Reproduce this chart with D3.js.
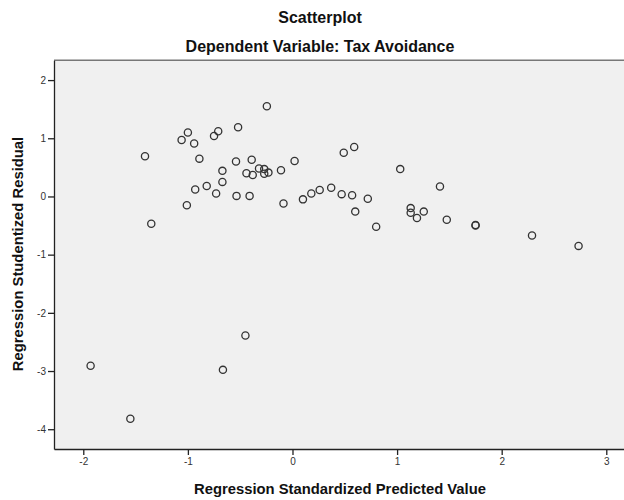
<!DOCTYPE html>
<html lang="en">
  <head>
    <meta charset="utf-8">
    <title>scatterplot</title>
    <script src="https://d3js.org/d3.v7.min.js"></script>
    <style>
      body {margin:0; background-color:white; overflow:hidden;}
      svg {font-family: "Liberation Sans", Arial, sans-serif; display:block;}
      .tick text {font-size:10px; fill:#333;}
      .title {font-size:16px; font-weight:bold; fill:#111;}
      .axis-title {font-size:14.8px; font-weight:bold; fill:#111;}
      .dot {fill:none; stroke:#333; stroke-width:1.3;}
    </style>
  </head>
  <body>
    <script>
      // standardized predicted values (x) and studentized residuals (y)
      var predicted = [
        -0.245, -0.52, -1.00, -0.71, -0.75, -1.06, -0.94, -1.41, -0.89, -0.54,
        -0.39, 0.02, -0.67, -0.32, -0.27, -0.44, -0.38, -0.27, -0.23, -0.11,
        -0.67, -0.82, -0.93, -0.73, -0.535, -0.41, -1.01, -0.086, 0.10, 0.18,
        0.26, 0.37, -1.35, 0.49, 0.59, 1.03, 0.47, 0.57, 0.72, 0.60,
        0.80, 1.41, 1.13, 1.13, 1.255, 1.19, 1.475, 1.75, 1.75, 2.29,
        2.735, -1.93, -1.55, -0.665, -0.45
      ];
      var residual = [
        1.55, 1.19, 1.10, 1.12, 1.04, 0.97, 0.91, 0.69, 0.65, 0.60,
        0.63, 0.61, 0.44, 0.48, 0.47, 0.40, 0.37, 0.39, 0.41, 0.45,
        0.25, 0.18, 0.12, 0.05, 0.01, 0.01, -0.15, -0.12, -0.05, 0.05,
        0.11, 0.15, -0.47, 0.75, 0.85, 0.47, 0.04, 0.02, -0.04, -0.26,
        -0.52, 0.17, -0.20, -0.28, -0.26, -0.37, -0.40, -0.49, -0.50, -0.67,
        -0.85, -2.91, -3.82, -2.98, -2.39
      ];
      var xTicks = [-2, -1, 0, 1, 2, 3];
      var yTicks = [-4, -3, -2, -1, 0, 1, 2];

      var data = [];
      for (var i = 0; i < predicted.length; i++) {
        data.push({x: predicted[i], y: residual[i]});
      }

      const width = 624;
      const height = 500;
      const plot = {left: 54, top: 60.3, bottom: 449};

      const x = d3.scaleLinear()
        .domain([-2.28, 3.2])
        .range([plot.left, plot.left + 5.48 * 104.6]);

      const y = d3.scaleLinear()
        .domain([-4.34, 2.34])
        .range([plot.bottom, plot.top]);

      const svg = d3.select('body').append('svg')
        .attr('width', width).attr('height', height);

      // plot background
      svg.append('rect')
        .attr('x', x(-2.28)).attr('y', y(2.34))
        .attr('width', x(3.2) - x(-2.28)).attr('height', y(-4.34) - y(2.34))
        .attr('fill', '#f0f0f0');

      // top border
      svg.append('line')
        .attr('x1', x(-2.28)).attr('x2', width)
        .attr('y1', y(2.34)).attr('y2', y(2.34))
        .attr('stroke', '#777').attr('stroke-width', 1.5);

      const xAxis = g => g
        .attr('transform', `translate(0, ${plot.bottom})`)
        .call(d3.axisBottom(x).tickValues(xTicks).tickFormat(d => String(d))
          .tickSizeOuter(0).tickSizeInner(6).tickPadding(3))
        .call(g => g.select('.domain').attr('stroke', '#222').attr('stroke-width', 1.3))
        .call(g => g.selectAll('.tick line').attr('stroke', '#222').attr('stroke-width', 1.3));

      const yAxis = g => g
        .attr('transform', `translate(${plot.left}, 0)`)
        .call(d3.axisLeft(y).tickValues(yTicks).tickFormat(d => String(d))
          .tickSizeOuter(0).tickSizeInner(6).tickPadding(2))
        .call(g => g.select('.domain').attr('stroke', '#222').attr('stroke-width', 1.3))
        .call(g => g.selectAll('.tick line').attr('stroke', '#222').attr('stroke-width', 1.3));

      svg.append('g').call(xAxis);
      svg.append('g').call(yAxis);

      svg.append('g')
        .selectAll('circle').data(data).enter().append('circle')
        .attr('class', 'dot')
        .attr('cx', d => x(d.x))
        .attr('cy', d => y(d.y))
        .attr('r', 3.6);

      svg.append('text').attr('class', 'title')
        .attr('x', 320).attr('y', 23).attr('text-anchor', 'middle')
        .text('Scatterplot');
      svg.append('text').attr('class', 'title')
        .attr('x', 320).attr('y', 52).attr('text-anchor', 'middle')
        .text('Dependent Variable: Tax Avoidance');

      svg.append('text').attr('class', 'axis-title')
        .attr('x', 340).attr('y', 494).attr('text-anchor', 'middle')
        .text('Regression Standardized Predicted Value');
      svg.append('text').attr('class', 'axis-title')
        .attr('transform', 'translate(23, 254) rotate(-90)')
        .attr('text-anchor', 'middle')
        .text('Regression Studentized Residual');
    </script>
  </body>
</html>
